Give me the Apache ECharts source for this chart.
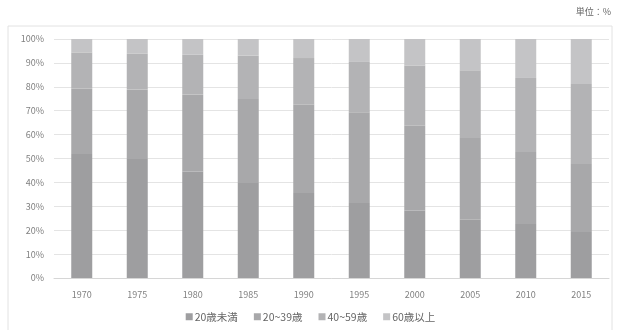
<!DOCTYPE html>
<html>
<head>
    <meta charset="utf-8" />
    <title>年齢構成</title>
    <script src="https://cdn.jsdelivr.net/npm/echarts@6/dist/echarts.min.js"></script>
    <style>
        html, body { margin: 0; padding: 0; background: #fff; }
        #chart { width: 621px; height: 330px; }
    </style>
</head>
<body>
    <div id="chart"></div>
    <script>
        // 年
        var years = ['1970', '1975', '1980', '1985', '1990', '1995', '2000', '2005', '2010', '2015'];
        // 各年齢層の構成比(%)
        var under20 = [51.9, 49.8, 44.6, 39.7, 35.6, 31.4, 28.2, 24.4, 22.6, 19.2];
        var age20to39 = [27.3, 29.0, 32.1, 35.2, 36.9, 37.9, 35.5, 34.2, 30.1, 28.5];
        var age40to59 = [15.2, 15.0, 16.7, 18.1, 19.5, 21.1, 25.1, 28.3, 31.0, 33.5];
        var over60 = [5.6, 6.2, 6.6, 7.0, 8.0, 9.6, 11.2, 13.1, 16.3, 18.8];
        var seriesNames = ['20歳未満', '20~39歳', '40~59歳', '60歳以上'];
        var seriesColors = ['#9e9ea0', '#a8a8aa', '#b3b3b5', '#c4c4c6'];

        var font = '"Noto Sans CJK JP", "Noto Sans", sans-serif';
        var myChart = echarts.init(document.getElementById('chart'));

        var seriesData = [under20, age20to39, age40to59, over60];
        var series = [];
        for (var i = 0; i < seriesNames.length; i++) {
            series.push({
                name: seriesNames[i],
                type: 'bar',
                stack: 'total',
                barWidth: 21,
                data: seriesData[i],
                itemStyle: { color: seriesColors[i] }
            });
        }

        myChart.setOption({
            animation: false,
            textStyle: { fontFamily: font },
            graphic: [
                {
                    type: 'rect',
                    shape: { x: 8, y: 26, width: 604, height: 310 },
                    style: { fill: 'none', stroke: '#e2e2e2', lineWidth: 1 },
                    silent: true
                },
                {
                    type: 'text',
                    right: 10,
                    top: 7,
                    style: { text: '単位：%', font: '9px ' + font, fill: '#666' }
                }
            ],
            grid: { left: 54, right: 12, top: 39, bottom: 52 },
            legend: {
                bottom: 3,
                left: 'center',
                itemWidth: 7,
                itemHeight: 7,
                itemGap: 16,
                icon: 'rect',
                textStyle: { fontSize: 10.5, color: '#666', fontFamily: font, padding: [0, 0, 0, -3] },
                data: seriesNames
            },
            xAxis: {
                type: 'category',
                data: years,
                axisLine: { lineStyle: { color: '#d6d6d6' } },
                axisTick: { show: false },
                axisLabel: { color: '#808080', fontSize: 9, margin: 12 }
            },
            yAxis: {
                type: 'value',
                min: 0,
                max: 100,
                interval: 10,
                axisLine: { show: false },
                axisTick: { show: false },
                axisLabel: { color: '#808080', fontSize: 9, margin: 10, formatter: '{value}%' },
                splitLine: { lineStyle: { color: '#e4e4e4' } }
            },
            series: series
        });
    </script>
</body>
</html>
